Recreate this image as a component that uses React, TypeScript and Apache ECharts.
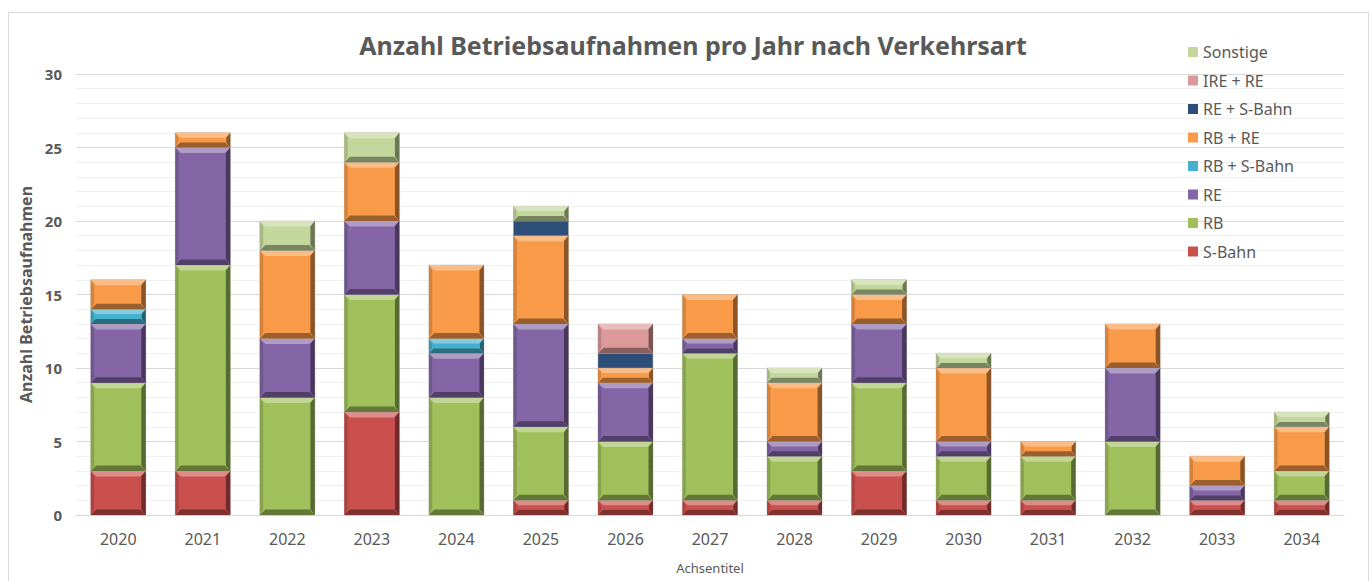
import React, { useEffect, useRef } from "react";
import * as echarts from "echarts";

const years = ["2020","2021","2022","2023","2024","2025","2026","2027","2028","2029","2030","2031","2032","2033","2034"];
const seriesNames = ["S-Bahn","RB","RE","RB + S-Bahn","RB + RE","RE + S-Bahn","IRE + RE","Sonstige"];
const sBahn     = [3,3,0,7,0,1,1,1,1,3,1,1,0,1,1];
const rb        = [6,14,8,8,8,5,4,10,3,6,3,3,5,0,2];
const re        = [4,8,4,5,3,7,4,1,1,4,1,0,5,1,0];
const rbSBahn   = [1,0,0,0,1,0,0,0,0,0,0,0,0,0,0];
const rbRe      = [2,1,6,4,5,6,1,3,4,2,5,1,3,2,3];
const reSBahn   = [0,0,0,0,0,1,1,0,0,0,0,0,0,0,0];
const ireRe     = [0,0,0,0,0,0,2,0,0,0,0,0,0,0,0];
const sonstige  = [0,0,2,2,0,1,0,0,1,1,1,0,0,0,1];
const seriesValues = [sBahn, rb, re, rbSBahn, rbRe, reSBahn, ireRe, sonstige];
const seriesColors = ["#C9504D","#A0C05C","#8466A6","#45B0CC","#F99A48","#2C4E78","#DB9A99","#C3D69B"];
const legendOrder = ["Sonstige","IRE + RE","RE + S-Bahn","RB + RE","RB + S-Bahn","RE","RB","S-Bahn"];
const yTicks = { min: 0, max: 30, interval: 5 };

function mix(hex: string, target: number, amt: number) {
  const n = parseInt(hex.slice(1), 16);
  const r = (n >> 16) & 255, g = (n >> 8) & 255, b = n & 255;
  const f = (c: number) => Math.round(c + (target - c) * amt);
  return `rgb(${f(r)},${f(g)},${f(b)})`;
}

export default function App() {
  const ref = useRef<HTMLDivElement>(null);
  useEffect(() => {
    document.body.style.margin = "0";
    if (!ref.current) return;
    const chart = echarts.init(ref.current, null, { renderer: "svg" });
    const cum = years.map(() => 0);
    const series = seriesNames.map((name, si) => {
      const color = seriesColors[si];
      const flat = name === "RE + S-Bahn";
      const data: number[][] = [];
      seriesValues[si].forEach((v, i) => {
        if (v > 0) data.push([i, cum[i], cum[i] + v, v]);
        cum[i] += v;
      });
      return {
        name,
        type: "custom",
        itemStyle: { color },
        encode: { x: 0, y: [1, 2] },
        data,
        renderItem: (params: any, api: any) => {
          const cat = api.value(0);
          const p0 = api.coord([cat, api.value(1)]);
          const p1 = api.coord([cat, api.value(2)]);
          const w = api.size([1, 0])[0] * 0.65;
          const x0 = p0[0] - w / 2, x1 = p0[0] + w / 2;
          const yB = p0[1], yT = p1[1];
          const h = yB - yT;
          const b = flat ? 0 : Math.min(5.5, h / 3);
          const children: any[] = [
            { type: "rect", shape: { x: x0, y: yT, width: w, height: h }, style: { fill: color, stroke: "rgba(160,160,160,0.6)", lineWidth: 0.8 } },
          ];
          if (b > 0) {
            children.push(
              { type: "polygon", shape: { points: [[x0, yT], [x1, yT], [x1 - b, yT + b], [x0 + b, yT + b]] }, style: { fill: mix(color, 255, 0.35) } },
              { type: "polygon", shape: { points: [[x0, yB], [x1, yB], [x1 - b, yB - b], [x0 + b, yB - b]] }, style: { fill: mix(color, 0, 0.38) } },
              { type: "polygon", shape: { points: [[x0, yT], [x0 + b * 0.6, yT + b], [x0 + b * 0.6, yB - b], [x0, yB]] }, style: { fill: mix(color, 0, 0.15) } },
              { type: "polygon", shape: { points: [[x1, yT], [x1 - b * 0.8, yT + b], [x1 - b * 0.8, yB - b], [x1, yB]] }, style: { fill: mix(color, 0, 0.45) } }
            );
          }
          return { type: "group", children };
        },
      };
    });
    chart.setOption({
      animation: false,
      textStyle: { fontFamily: "'Noto Sans', 'Open Sans', sans-serif" },
      title: {
        text: "Anzahl Betriebsaufnahmen pro Jahr nach Verkehrsart",
        left: 688, textAlign: "center", top: 27,
        textStyle: { fontSize: 25, fontWeight: "bold", color: "#595959" },
      },
      legend: {
        orient: "vertical", left: 1183, top: 39,
        data: legendOrder, itemWidth: 10, itemHeight: 10, itemGap: 12.5, icon: "rect",
        textStyle: { fontSize: 16, color: "#595959", lineHeight: 16 },
      },
      graphic: [{ type: "rect", shape: { x: 8.5, y: 12.5, width: 1360, height: 600 }, style: { fill: "none", stroke: "#d9d9d9", lineWidth: 1 }, silent: true, z: -1 }],
      grid: { left: 76, right: 28, top: 74, bottom: 66 },
      xAxis: {
        type: "category", data: years, boundaryGap: true,
        axisLine: { lineStyle: { color: "#d9d9d9" } }, axisTick: { show: false },
        axisLabel: { fontSize: 16, color: "#595959", margin: 16 },
        name: "Achsentitel", nameLocation: "middle", nameGap: 46,
        nameTextStyle: { fontSize: 13, color: "#595959" },
      },
      yAxis: {
        type: "value", min: yTicks.min, max: yTicks.max, interval: yTicks.interval,
        axisLine: { show: false }, axisTick: { show: false },
        axisLabel: { fontSize: 15, fontWeight: "bold", color: "#595959", margin: 14 },
        splitLine: { lineStyle: { color: "#d9d9d9" } },
        minorTick: { show: false, splitNumber: 5 },
        minorSplitLine: { show: true, lineStyle: { color: "#f0f0f0" } },
        name: "Anzahl Betriebsaufnahmen", nameLocation: "middle", nameGap: 40,
        nameTextStyle: { fontSize: 16, fontWeight: "bold", color: "#595959" },
      },
      series,
    });
    return () => chart.dispose();
  }, []);
  return <div ref={ref} style={{ width: 1372, height: 581 }} />;
}
